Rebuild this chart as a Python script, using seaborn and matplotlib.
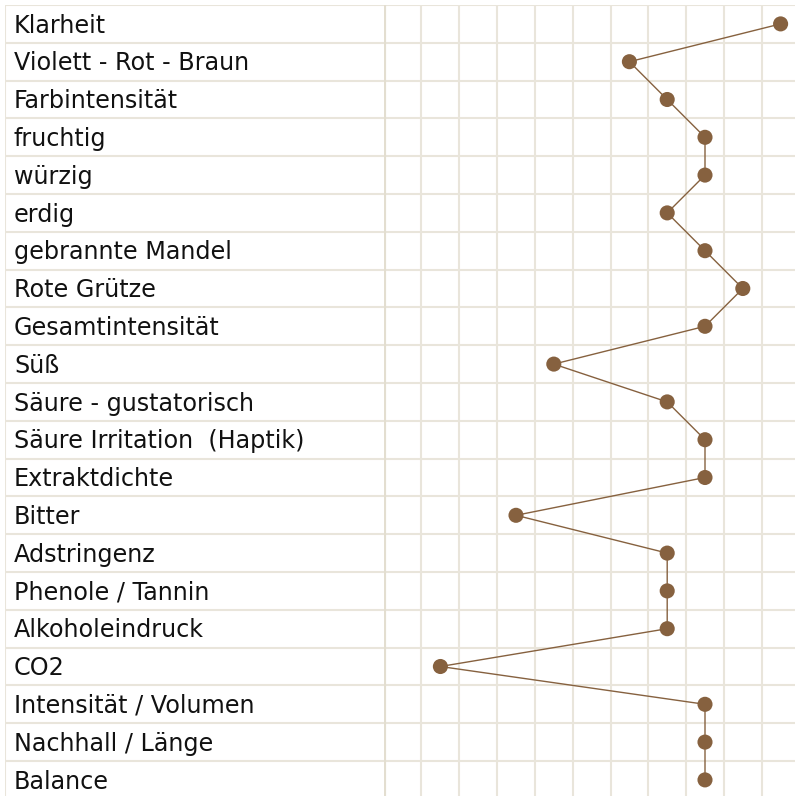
import matplotlib
matplotlib.use("Agg")
import matplotlib.pyplot as plt
import seaborn as sns
import pandas as pd
import numpy as np

attributes = [
    "Klarheit", "Violett - Rot - Braun", "Farbintensität", "fruchtig", "würzig",
    "erdig", "gebrannte Mandel", "Rote Grütze", "Gesamtintensität", "Süß",
    "Säure - gustatorisch", "Säure Irritation  (Haptik)", "Extraktdichte", "Bitter",
    "Adstringenz", "Phenole / Tannin", "Alkoholeindruck", "CO2",
    "Intensität / Volumen", "Nachhall / Länge", "Balance",
]
scores = [10, 6, 7, 8, 8, 7, 8, 9, 8, 4, 7, 8, 8, 3, 7, 7, 7, 1, 8, 8, 8]

df = pd.DataFrame({"attribute": attributes, "score": scores, "row": np.arange(len(attributes))})

sns.set_theme(style="white")
plt.rcParams["font.family"] = ["DejaVu Sans"]

W, H = 795, 796
fig = plt.figure(figsize=(W / 100, H / 100), dpi=100)
fig.patch.set_facecolor("white")

grid_c = "#e9e5db"
point_c = "#86613f"

cell = 37.8
top_px = 5
x0_px = 383.7
n_rows_vis = (H - top_px) / cell
ylim = (-0.5 + n_rows_vis, -0.5)

# label column axes
axl = fig.add_axes([5 / W, 0, (x0_px - 5) / W, (H - top_px) / H])
axl.set_xlim(0, 1)
axl.set_ylim(*ylim)
for r in range(len(attributes) + 1):
    axl.axhline(r - 0.5, color=grid_c, lw=1.5, zorder=0)
for r, name in enumerate(df["attribute"]):
    axl.text(9 / (x0_px - 5), r + 0.23, name, ha="left", va="baseline",
             fontsize=17.2, color="#111111")
for s in axl.spines.values():
    s.set_visible(False)
axl.axvline(0, color=grid_c, lw=1.5)
axl.set_xticks([]); axl.set_yticks([])
axl.patch.set_alpha(0)

# plot axes
ax = fig.add_axes([x0_px / W, 0, (W - x0_px) / W, (H - top_px) / H])
ncells = (W - x0_px) / cell
ax.set_xlim(-0.5, -0.5 + ncells)
ax.set_ylim(*ylim)
for k in range(0, 12):
    ax.axvline(k - 0.5, color=grid_c, lw=1.5, zorder=0)
for r in range(len(attributes) + 1):
    ax.axhline(r - 0.5, color=grid_c, lw=1.5, zorder=0)
ax.axvline(-0.5, color="#e3ded0", lw=3, zorder=0)

sns.lineplot(data=df, x="score", y="row", sort=False, estimator=None, orient="y",
             color=point_c, lw=1.0, ax=ax, zorder=2)
sns.scatterplot(data=df, x="score", y="row", color=point_c, s=118, edgecolor="none",
                ax=ax, zorder=3, legend=False)
ax.set_xlim(-0.5, -0.5 + ncells)
ax.set_ylim(*ylim)
ax.set_xlabel(""); ax.set_ylabel("")
ax.set_xticks([]); ax.set_yticks([])
for s in ax.spines.values():
    s.set_visible(False)
ax.patch.set_alpha(0)

fig.savefig("out.png", dpi=100, facecolor="white")
